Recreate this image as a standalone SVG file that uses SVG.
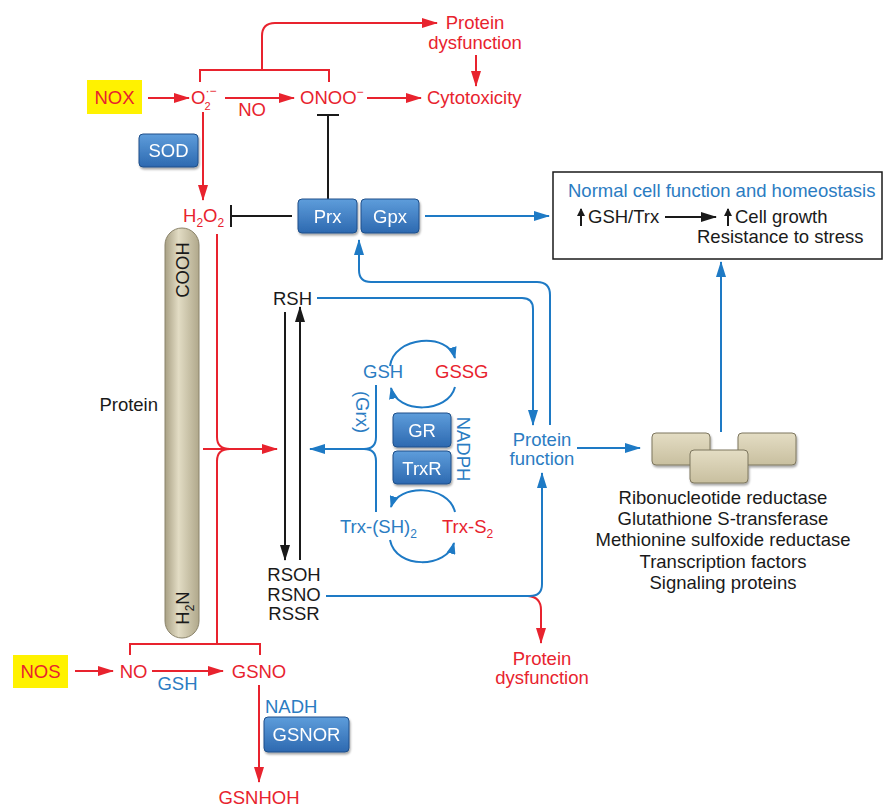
<svg xmlns="http://www.w3.org/2000/svg" width="887" height="807" viewBox="0 0 887 807">
<defs>
<style>
text{font-family:"Liberation Sans",Arial,Helvetica,sans-serif;font-size:18.5px}
.r{fill:#e8232e}.b{fill:#2b7cc2}.k{fill:#1a1a1a}.w{fill:#ffffff}
.m{text-anchor:middle}
.lr{fill:none;stroke:#e8232e;stroke-width:2}
.lb{fill:none;stroke:#1e7ac5;stroke-width:2}
.lk{fill:none;stroke:#1a1a1a;stroke-width:2}
.bx{fill:url(#gb);stroke:#1f4f8a;stroke-width:1}
.tan{fill:url(#gt);stroke:#7d765e;stroke-width:1}
.sub{font-size:12px}
</style>
<linearGradient id="gb" x1="0" y1="0" x2="0" y2="1"><stop offset="0" stop-color="#5e9ddb"/><stop offset="1" stop-color="#2d69b0"/></linearGradient>
<linearGradient id="gt" x1="0" y1="0" x2="0" y2="1"><stop offset="0" stop-color="#e4ddc4"/><stop offset="1" stop-color="#c8bf9f"/></linearGradient>
<linearGradient id="gp" x1="0" y1="0" x2="1" y2="0"><stop offset="0" stop-color="#a8a084"/><stop offset="0.4" stop-color="#e2dcc4"/><stop offset="1" stop-color="#b0a88b"/></linearGradient>
<filter id="sh" x="-20%" y="-20%" width="140%" height="150%"><feDropShadow dx="1" dy="2" stdDeviation="1.2" flood-color="#000" flood-opacity="0.35"/></filter>
<marker id="ar" viewBox="0 0 16 10" refX="15" refY="5" markerWidth="16" markerHeight="10" orient="auto" markerUnits="userSpaceOnUse"><path d="M0,0 L16,5 L0,10 z" fill="#e8232e"/></marker>
<marker id="ab" viewBox="0 0 16 10" refX="15" refY="5" markerWidth="16" markerHeight="10" orient="auto" markerUnits="userSpaceOnUse"><path d="M0,0 L16,5 L0,10 z" fill="#1e7ac5"/></marker>
<marker id="abs" viewBox="0 0 12 9" refX="11" refY="4.5" markerWidth="12" markerHeight="9" orient="auto" markerUnits="userSpaceOnUse"><path d="M0,0 L12,4.5 L0,9 z" fill="#1e7ac5"/></marker>
<marker id="ak" viewBox="0 0 16 10" refX="15" refY="5" markerWidth="16" markerHeight="10" orient="auto" markerUnits="userSpaceOnUse"><path d="M0,0 L16,5 L0,10 z" fill="#1a1a1a"/></marker>
<marker id="aks" viewBox="0 0 8 8" refX="7" refY="4" markerWidth="8" markerHeight="8" orient="auto" markerUnits="userSpaceOnUse"><path d="M0,0 L8,4 L0,8 z" fill="#1a1a1a"/></marker>
</defs>
<rect width="887" height="807" fill="#ffffff"/>

<g id="normal-box"><rect x="553" y="172" width="329" height="87" fill="none" stroke="#1a1a1a" stroke-width="1.5"/>
<text class="b" x="568" y="197">Normal cell function and homeostasis</text>
<text class="k" x="588" y="223">GSH/Trx</text>
<text class="k" x="735" y="223">Cell growth</text>
<text class="k" x="697" y="243">Resistance to stress</text></g>

<g id="connectors">
<!-- red -->
<path class="lr" d="M148,98 H189" marker-end="url(#ar)"/>
<path class="lr" d="M225,98 H294" marker-end="url(#ar)"/>
<path class="lr" d="M367,98 H421" marker-end="url(#ar)"/>
<path class="lr" d="M200,82 V70 H329 V82"/>
<path class="lr" d="M262,70 V36 Q262,23 275,23 H437" marker-end="url(#ar)"/>
<path class="lr" d="M476,55 V86" marker-end="url(#ar)"/>
<path class="lr" d="M203,112 V200" marker-end="url(#ar)"/>
<path class="lr" d="M217,234 V437 Q217,449 230,449"/>
<path class="lr" d="M217,644 V461 Q217,449 230,449"/>
<path class="lr" d="M203,449 H277" marker-end="url(#ar)"/>
<path class="lr" d="M130,655 V644 H260 V655"/>
<path class="lr" d="M75,671 H113" marker-end="url(#ar)"/>
<path class="lr" d="M152,671 H223" marker-end="url(#ar)"/>
<path class="lr" d="M259,685 V782" marker-end="url(#ar)"/>
<path class="lr" d="M528,596 Q541,597 541,610 V643" marker-end="url(#ar)"/>
<!-- blue -->
<path class="lb" d="M425,216 H549" marker-end="url(#ab)"/>
<path class="lb" d="M317,298 H522 Q533,298 533,309 V425" marker-end="url(#ab)"/>
<path class="lb" d="M550,425 V295 Q550,282 537,282 H371 Q359,282 359,270 V240" marker-end="url(#ab)"/>
<path class="lb" d="M577,448 H640" marker-end="url(#ab)"/>
<path class="lb" d="M721,432 V262" marker-end="url(#ab)"/>
<path class="lb" d="M326,596 H530 Q542,596 542,584 V473" marker-end="url(#ab)"/>
<path class="lb" d="M376,385 V437 Q376,449 364,449"/>
<path class="lb" d="M376,512 V461 Q376,449 364,449"/>
<path class="lb" d="M366,449 H310" marker-end="url(#ab)"/>
<path class="lb" d="M390,366 C394,336 448,332 455,358" marker-end="url(#abs)"/>
<path class="lb" d="M455,387 C448,414 397,414 391,388" marker-end="url(#abs)"/>
<path class="lb" d="M455,512 C448,484 398,484 391,507" marker-end="url(#abs)"/>
<path class="lb" d="M390,540 C396,570 447,568 454,543" marker-end="url(#abs)"/>
<!-- black -->
<path class="lk" d="M285,312 V560" marker-end="url(#ak)"/>
<path class="lk" d="M300,560 V307" marker-end="url(#ak)"/>
<path class="lk" d="M292,216 H231 M231,205 V227"/>
<path class="lk" d="M328,199 V115 M317,115 H339"/>
<path class="lk" d="M665,217 H716" marker-end="url(#ak)"/>
<path class="lk" stroke-width="1.5" d="M581,226 V209" marker-end="url(#aks)"/>
<path class="lk" stroke-width="1.5" d="M728,226 V209" marker-end="url(#aks)"/>
</g>

<g id="nox"><rect x="87" y="80" width="55" height="34" fill="#fff200"/><text class="r m" x="114.5" y="104">NOX</text></g>
<g id="superoxide"><text class="r" x="191" y="104">O<tspan font-size="12" dx="0" dy="-9">·−</tspan><tspan font-size="11" dx="-12" dy="15">2</tspan></text></g>
<g id="no-label"><text class="r m" x="252" y="116">NO</text></g>
<g id="onoo"><text class="r" x="300" y="104">ONOO<tspan font-size="12" dy="-8">−</tspan></text></g>
<g id="cytotoxicity"><text class="r" x="427" y="104">Cytotoxicity</text></g>
<g id="protein-dysfunction-top"><text class="r m" x="475" y="29">Protein</text><text class="r m" x="475" y="49">dysfunction</text></g>
<g id="sod" filter="url(#sh)"><rect class="bx" x="139" y="134" width="59" height="33" rx="4"/><text class="w m" x="168.5" y="157">SOD</text></g>
<g id="h2o2"><text class="r" x="183" y="222">H<tspan class="sub" dy="5">2</tspan><tspan dy="-5">O</tspan><tspan class="sub" dy="5">2</tspan></text></g>
<g id="prx" filter="url(#sh)"><rect class="bx" x="298" y="199" width="59" height="34" rx="4"/><text class="w m" x="327.5" y="223">Prx</text></g>
<g id="gpx" filter="url(#sh)"><rect class="bx" x="361" y="199" width="58" height="34" rx="4"/><text class="w m" x="390" y="223">Gpx</text></g>
<g id="protein-bar"><rect x="165" y="228" width="34" height="410" rx="17" fill="url(#gp)" stroke="#8a836a" stroke-width="1"/>
<text class="k m" transform="translate(188.5,270) rotate(-90)" x="0" y="0">COOH</text>
<text class="k m" transform="translate(188.5,608) rotate(-90)" x="0" y="0">H<tspan class="sub" dy="5">2</tspan><tspan dy="-5">N</tspan></text></g>
<g id="protein-label"><text class="k" x="158" y="411" text-anchor="end">Protein</text></g>
<g id="rsh"><text class="k m" x="292.5" y="305">RSH</text></g>
<g id="rsoh"><text class="k m" x="294" y="581">RSOH<tspan x="294" dy="19.5">RSNO</tspan><tspan x="294" dy="19">RSSR</tspan></text></g>
<g id="gsh"><text class="b" x="363" y="378">GSH</text></g>
<g id="gssg"><text class="r" x="435" y="378">GSSG</text></g>
<g id="grx"><text class="b m" transform="translate(355.5,412) rotate(90)" x="0" y="0">(Grx)</text></g>
<g id="gr" filter="url(#sh)"><rect class="bx" x="393" y="413" width="58" height="34" rx="4"/><text class="w m" x="422" y="437">GR</text></g>
<g id="trxr" filter="url(#sh)"><rect class="bx" x="393" y="451" width="58" height="33" rx="4"/><text class="w m" x="422" y="475">TrxR</text></g>
<g id="nadph"><text class="b m" transform="translate(456.5,449) rotate(90)" x="0" y="0">NADPH</text></g>
<g id="trx-sh2"><text class="b" x="340" y="533">Trx-(SH)<tspan class="sub" dy="5">2</tspan></text></g>
<g id="trx-s2"><text class="r" x="442" y="533">Trx-S<tspan class="sub" dy="5">2</tspan></text></g>
<g id="protein-function"><text class="b m" x="542" y="446">Protein</text><text class="b m" x="542" y="465">function</text></g>
<g id="protein-dysfunction-bottom"><text class="r m" x="542" y="665">Protein</text><text class="r m" x="542" y="684">dysfunction</text></g>
<g id="proteins" filter="url(#sh)"><rect class="tan" x="652" y="433" width="58" height="32" rx="4"/><rect class="tan" x="738" y="433" width="58" height="32" rx="4"/><rect class="tan" x="690" y="450" width="58" height="33" rx="4"/></g>
<g id="protein-list"><text class="k m" x="723" y="504">Ribonucleotide reductase</text><text class="k m" x="723" y="525">Glutathione S-transferase</text><text class="k m" x="723" y="546">Methionine sulfoxide reductase</text><text class="k m" x="723" y="568">Transcription factors</text><text class="k m" x="723" y="589">Signaling proteins</text></g>
<g id="nos"><rect x="13" y="655" width="55" height="33" fill="#fff200"/><text class="r m" x="40.5" y="678">NOS</text></g>
<g id="no"><text class="r m" x="133.5" y="678">NO</text></g>
<g id="gsh-label"><text class="b m" x="177.5" y="690">GSH</text></g>
<g id="gsno"><text class="r m" x="259" y="678">GSNO</text></g>
<g id="nadh"><text class="b" x="265" y="713">NADH</text></g>
<g id="gsnor" filter="url(#sh)"><rect class="bx" x="264" y="717" width="85" height="35" rx="4"/><text class="w m" x="306.5" y="741">GSNOR</text></g>
<g id="gsnhoh"><text class="r m" x="259" y="804">GSNHOH</text></g>
</svg>
